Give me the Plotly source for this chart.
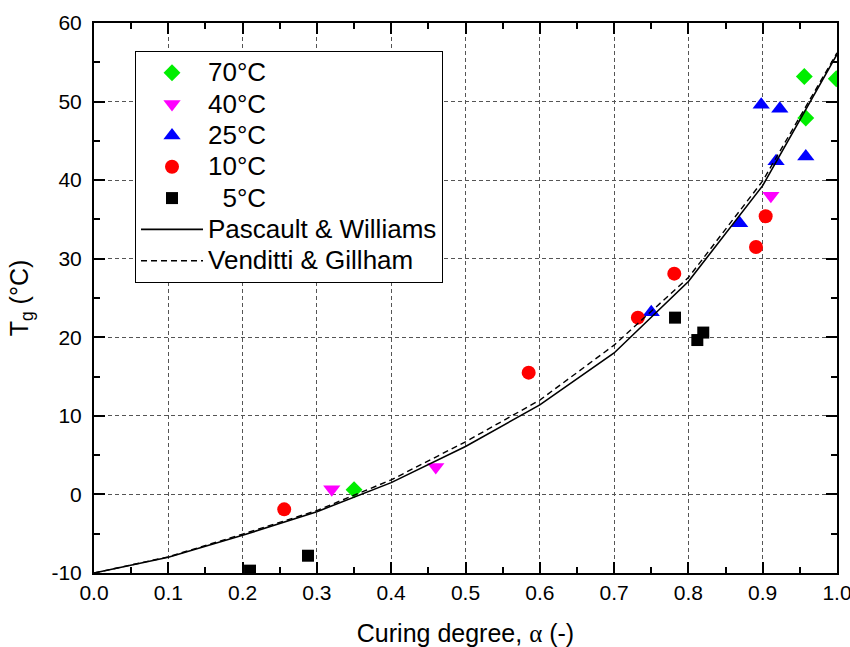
import plotly.graph_objects as go

# ---- data ----
x_70 = [0.350, 0.956, 0.958, 0.999]
y_70 = [0.6, 53.2, 47.9, 52.9]

x_40 = [0.320, 0.460, 0.911]
y_40 = [0.65, 3.5, 38.0]

x_25 = [0.750, 0.869, 0.898, 0.918, 0.923, 0.958]
y_25 = [23.2, 34.5, 49.6, 42.4, 49.1, 43.0]

x_10 = [0.256, 0.585, 0.732, 0.781, 0.891, 0.904]
y_10 = [-1.9, 15.5, 22.5, 28.1, 31.5, 35.4]

x_5 = [0.210, 0.288, 0.782, 0.812, 0.820]
y_5 = [-9.7, -7.8, 22.5, 19.65, 20.6]

alpha_model = [0.0, 0.1, 0.2, 0.3, 0.4, 0.5, 0.6, 0.7, 0.8, 0.9, 1.0]
tg_pascault = [-10.0, -8.0, -5.2, -2.2, 1.5, 6.1, 11.4, 18.0, 27.1, 39.3, 56.0]
tg_venditti = [-10.0, -7.95, -5.05, -2.05, 1.85, 6.7, 12.0, 19.0, 27.6, 39.9, 56.2]

series_names = ["70°C", "40°C", "25°C", "10°C", "\u00a0\u00a05°C",
                "Pascault & Williams", "Venditti & Gillham"]

x_ticks = [0.0, 0.1, 0.2, 0.3, 0.4, 0.5, 0.6, 0.7, 0.8, 0.9, 1.0]
x_tick_labels = ["0.0", "0.1", "0.2", "0.3", "0.4", "0.5", "0.6", "0.7", "0.8", "0.9", "1.0"]
y_ticks = [-10, 0, 10, 20, 30, 40, 50, 60]
y_tick_labels = ["-10", "0", "10", "20", "30", "40", "50", "60"]

FONT = "Liberation Sans, Arial, sans-serif"


def lg(name):
    return "<span style='font-size:26px'>" + name + "</span>"


fig = go.Figure()

fig.add_trace(go.Scatter(x=x_70, y=y_70, mode="markers", name=lg(series_names[0]),
                         marker=dict(symbol="diamond", size=13, color="#00ee00")))
fig.add_trace(go.Scatter(x=x_40, y=y_40, mode="markers", name=lg(series_names[1]),
                         marker=dict(symbol="triangle-down", size=15, color="#ff00ff")))
fig.add_trace(go.Scatter(x=x_25, y=y_25, mode="markers", name=lg(series_names[2]),
                         marker=dict(symbol="triangle-up", size=15, color="#0000ff")))
fig.add_trace(go.Scatter(x=x_10, y=y_10, mode="markers", name=lg(series_names[3]),
                         marker=dict(symbol="circle", size=14, color="#ff0000")))
fig.add_trace(go.Scatter(x=x_5, y=y_5, mode="markers", name=lg(series_names[4]),
                         marker=dict(symbol="square", size=12, color="#000000")))
fig.add_trace(go.Scatter(x=alpha_model, y=tg_pascault, mode="lines",
                         name=lg(series_names[5]),
                         line=dict(color="black", width=1.6)))
fig.add_trace(go.Scatter(x=alpha_model, y=tg_venditti, mode="lines",
                         name=lg(series_names[6]),
                         line=dict(color="black", width=1.4, dash="6px,4px")))

axis_common = dict(
    showline=True, linecolor="black", linewidth=2, mirror="ticks",
    ticks="inside", ticklen=11, tickwidth=2, tickcolor="black",
    showgrid=True, gridcolor="#555555", gridwidth=1, griddash="4px,3px",
    zeroline=False, automargin=False, ticklabeloverflow="allow",
    tickfont=dict(family=FONT, size=21, color="black"),
)

fig.update_xaxes(
    range=[0, 1], tickvals=x_ticks, ticktext=x_tick_labels,
    minor=dict(ticks="inside", ticklen=6, tickwidth=2, tickcolor="black",
               dtick=0.05, showgrid=False),
    title=dict(text="Curing degree, <span style='font-family:Liberation Serif'>α</span> (-)",
               font=dict(family=FONT, size=25, color="black"), standoff=22),
    **axis_common,
)
fig.update_yaxes(
    range=[-10, 60], tickvals=y_ticks, ticktext=y_tick_labels,
    ticklabelstandoff=6,
    minor=dict(ticks="inside", ticklen=6, tickwidth=2, tickcolor="black",
               dtick=5, showgrid=False),
    title=dict(text="T<sub>g</sub> (°C)",
               font=dict(family=FONT, size=25, color="black"), standoff=16),
    **axis_common,
)

fig.update_layout(
    width=850, height=647,
    margin=dict(l=94, r=13, t=23, b=74),
    plot_bgcolor="white", paper_bgcolor="white",
    font=dict(family=FONT, color="black"),
    showlegend=True,
    legend=dict(
        x=0.0552, y=0.949, xanchor="left", yanchor="top",
        bgcolor="white", bordercolor="black", borderwidth=1,
        font=dict(family=FONT, size=21.8, color="black"),
        itemwidth=62, tracegroupgap=0, traceorder="normal",
    ),
)

fig.write_html(
    "out.html",
    config={"displayModeBar": False},
    post_script="document.body.style.margin='0px';document.body.style.overflow='hidden';",
)
